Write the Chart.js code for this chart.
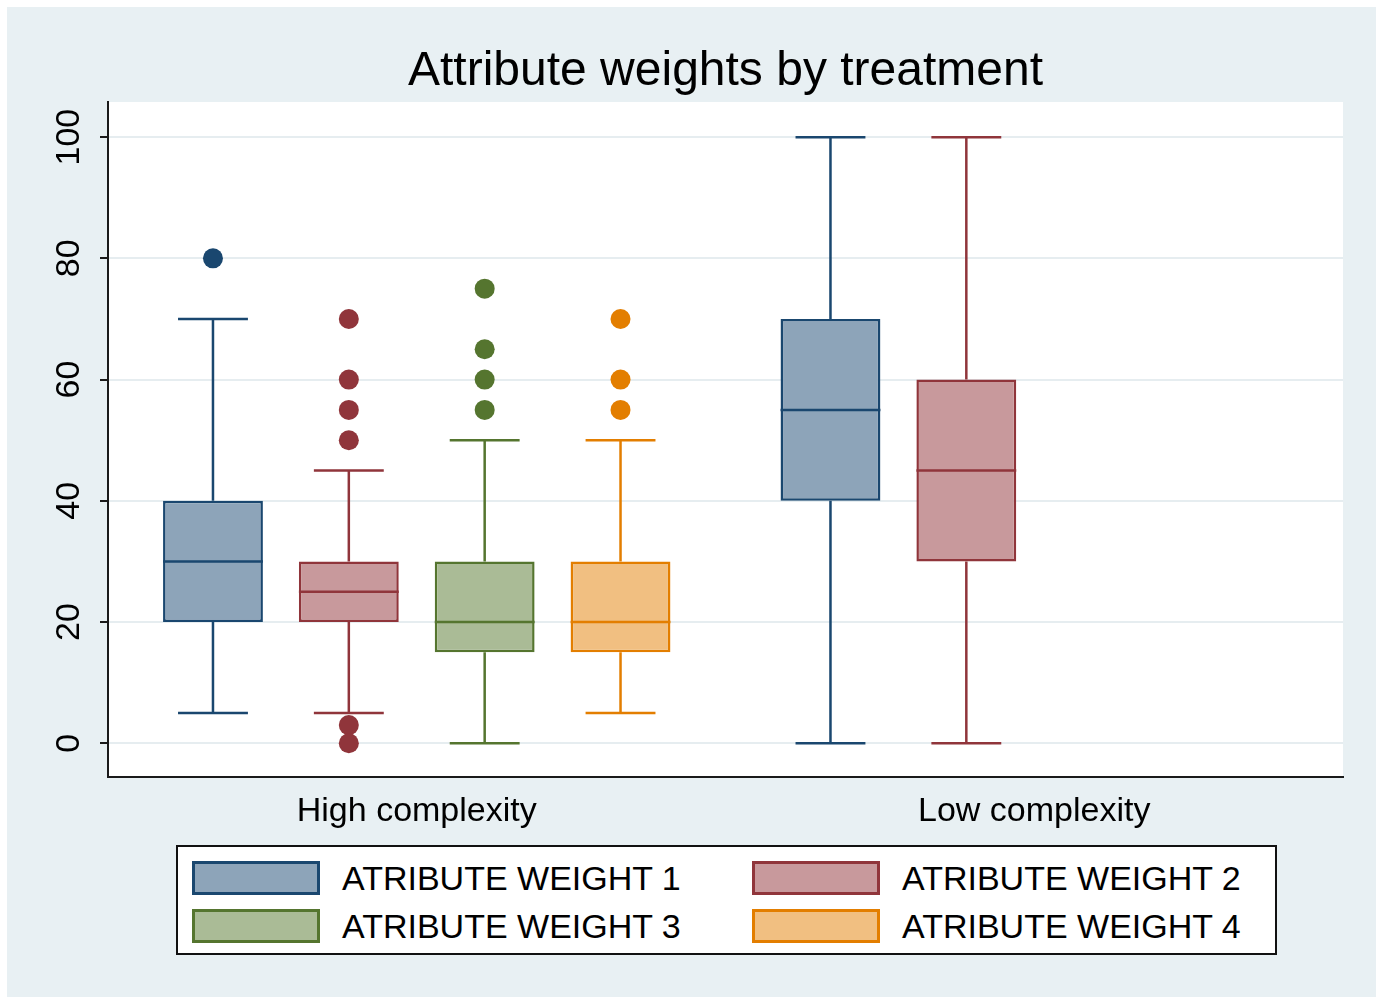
<!DOCTYPE html>
<html>
<head>
<meta charset="utf-8">
<script src="https://cdn.jsdelivr.net/npm/chart.js@4/dist/chart.umd.min.js"></script>
<style>
  body { margin: 0; background: #ffffff; }
  #wrap { position: relative; width: 1383px; height: 1000px; }
  #legend {
    position: absolute; left: 176px; top: 845px; width: 1097px; height: 106px;
    border: 2px solid #111; background: #fff;
    font-family: Arial, "Liberation Sans", sans-serif; font-size: 34px; color: #000;
  }
  .item { position: absolute; height: 34px; line-height: 34px; white-space: nowrap; }
  .swatch { position: absolute; left: 0; top: 0; width: 122px; height: 28px; border-width: 3px; border-style: solid; }
  .label { position: absolute; left: 150px; top: 0; }
</style>
</head>
<body>
<div id="wrap">
  <canvas id="myChart" width="1383" height="1000"></canvas>
  <div id="legend"></div>
</div>
<script>
'use strict';

let groups = ['High complexity', 'Low complexity'];
let seriesNames = ['ATRIBUTE WEIGHT 1', 'ATRIBUTE WEIGHT 2', 'ATRIBUTE WEIGHT 3', 'ATRIBUTE WEIGHT 4'];

// one inner array per series: [high, low]
let lowerQuartile = [[20, 40], [20, 30], [15, null], [15, null]];
let medians = [[30, 55], [25, 45], [20, null], [20, null]];
let upperQuartile = [[40, 70], [30, 60], [30, null], [30, null]];
let lowerWhisker = [[5, 0], [5, 0], [0, null], [5, null]];
let upperWhisker = [[70, 100], [45, 100], [50, null], [50, null]];
let outliers = [
    [[80], []],
    [[70, 60, 55, 50, 3, 0], []],
    [[75, 65, 60, 55], []],
    [[70, 60, 55], []]
];
let yTicks = [0, 20, 40, 60, 80, 100];

let lineColors = ['#1a476f', '#90353b', '#55752f', '#e37e00'];
let fillColors = ['#8da4b9', '#c8999c', '#aabb96', '#f1bf81'];

let font = 'Arial, "Liberation Sans", sans-serif';

let datasets = [];
for (let i = 0; i < seriesNames.length; i++) {
    let vals = [];
    for (let j = 0; j < groups.length; j++) {
        if (lowerQuartile[i][j] === null) {
            vals.push(null);
        } else {
            vals.push([lowerQuartile[i][j], upperQuartile[i][j]]);
        }
    }
    datasets.push({
        label: seriesNames[i],
        data: vals,
        backgroundColor: fillColors[i],
        borderColor: lineColors[i],
        borderWidth: 2.5,
        borderSkipped: false,
        categoryPercentage: 0.88,
        barPercentage: 0.735
    });
}

let backgroundPlugin = {
    id: 'backgroundPlugin',
    beforeDraw(chart) {
        let ctx = chart.ctx;
        let a = chart.chartArea;
        ctx.save();
        ctx.fillStyle = '#e8f0f3';
        ctx.fillRect(7, 7, chart.width - 14, chart.height - 10);
        ctx.fillStyle = '#ffffff';
        ctx.fillRect(a.left, a.top, a.right - a.left, a.bottom - a.top);
        ctx.restore();
    }
};

let boxPlugin = {
    id: 'boxPlugin',
    afterDatasetsDraw(chart) {
        let ctx = chart.ctx;
        let y = chart.scales.y;
        ctx.save();
        for (let i = 0; i < seriesNames.length; i++) {
            let meta = chart.getDatasetMeta(i);
            for (let j = 0; j < groups.length; j++) {
                if (lowerQuartile[i][j] === null) continue;
                let bar = meta.data[j];
                let cx = bar.x;
                let half = bar.width / 2;
                let cap = bar.width * 0.35;
                ctx.strokeStyle = lineColors[i];
                ctx.lineWidth = 2.5;
                ctx.beginPath();
                // median
                ctx.moveTo(cx - half, y.getPixelForValue(medians[i][j]));
                ctx.lineTo(cx + half, y.getPixelForValue(medians[i][j]));
                // whiskers
                ctx.moveTo(cx, y.getPixelForValue(upperQuartile[i][j]));
                ctx.lineTo(cx, y.getPixelForValue(upperWhisker[i][j]));
                ctx.moveTo(cx - cap, y.getPixelForValue(upperWhisker[i][j]));
                ctx.lineTo(cx + cap, y.getPixelForValue(upperWhisker[i][j]));
                ctx.moveTo(cx, y.getPixelForValue(lowerQuartile[i][j]));
                ctx.lineTo(cx, y.getPixelForValue(lowerWhisker[i][j]));
                ctx.moveTo(cx - cap, y.getPixelForValue(lowerWhisker[i][j]));
                ctx.lineTo(cx + cap, y.getPixelForValue(lowerWhisker[i][j]));
                ctx.stroke();
                ctx.fillStyle = lineColors[i];
                for (let k = 0; k < outliers[i][j].length; k++) {
                    ctx.beginPath();
                    ctx.arc(cx, y.getPixelForValue(outliers[i][j][k]), 10, 0, Math.PI * 2);
                    ctx.fill();
                }
            }
        }
        ctx.restore();
    }
};

let ctx = document.getElementById('myChart').getContext('2d');

let chart = new Chart(ctx, {
    type: 'bar',
    data: {
        labels: groups,
        datasets: datasets
    },
    plugins: [backgroundPlugin, boxPlugin],
    options: {
        responsive: false,
        animation: false,
        layout: { padding: { top: 10, left: 0, right: 40, bottom: 154 } },
        plugins: {
            legend: { display: false },
            tooltip: { enabled: false },
            title: {
                display: true,
                text: 'Attribute weights by treatment',
                fullSize: false,
                color: '#000',
                font: { family: font, size: 48, weight: 'normal', lineHeight: 1.1 },
                padding: { top: 35.6, bottom: 3.6 }
            }
        },
        scales: {
            x: {
                grid: { display: true, drawOnChartArea: false, drawTicks: false, color: 'rgba(0,0,0,0)' },
                border: { display: true, color: '#1a1a1a', width: 2 },
                ticks: { color: '#000', padding: 14, font: { family: font, size: 34 } }
            },
            y: {
                min: -5.6,
                max: 105.8,
                afterBuildTicks(scale) {
                    scale.ticks = yTicks.map(v => ({ value: v }));
                },
                afterFit(scale) {
                    scale.width = 108;
                },
                grid: { color: '#e6edf0', lineWidth: 2, tickLength: 8, tickColor: '#1a1a1a', tickWidth: 2 },
                border: { display: true, color: '#1a1a1a', width: 2 },
                ticks: {
                    color: '#000',
                    minRotation: 90,
                    maxRotation: 90,
                    crossAlign: 'center',
                    padding: 2,
                    font: { family: font, size: 34 }
                }
            }
        }
    }
});

// legend, built from the chart's datasets
let legendBox = document.getElementById('legend');
let spots = [[14, 14], [574, 14], [14, 62], [574, 62]];
chart.data.datasets.forEach(function (ds, i) {
    let item = document.createElement('div');
    item.className = 'item';
    item.style.left = spots[i][0] + 'px';
    item.style.top = spots[i][1] + 'px';
    let sw = document.createElement('div');
    sw.className = 'swatch';
    sw.style.background = ds.backgroundColor;
    sw.style.borderColor = ds.borderColor;
    let lb = document.createElement('div');
    lb.className = 'label';
    lb.textContent = ds.label;
    item.appendChild(sw);
    item.appendChild(lb);
    legendBox.appendChild(item);
});
</script>
</body>
</html>
